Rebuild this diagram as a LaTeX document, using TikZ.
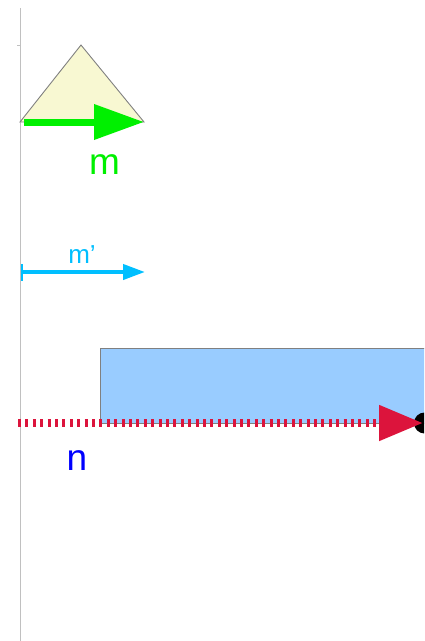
\documentclass[tikz,border=0pt]{standalone}
\usepackage{fontspec}
\setmainfont{Liberation Sans}
\usetikzlibrary{arrows.meta}
\definecolor{triyellow}{HTML}{F8F8D2}
\definecolor{mgreen}{HTML}{00F000}
\definecolor{mcyan}{HTML}{00BFFF}
\definecolor{ncrimson}{HTML}{DC143C}
\definecolor{rectblue}{HTML}{99CCFF}
\definecolor{axisgray}{HTML}{C0C0C0}
\begin{document}
\begin{tikzpicture}[x=1pt,y=-1pt,
  axisline/.style={draw=axisgray, line width=1.2pt},
  shapeline/.style={draw=gray, line width=0.9pt},
  greenarrow/.style={draw=mgreen, line width=7pt, -{Triangle[length=50pt,width=34pt]}},
  cyanarrow/.style={draw=mcyan, line width=4pt, {Bar[width=17pt,line width=2pt]}-{Triangle[length=22pt,width=15pt]}},
  redarrow/.style={draw=ncrimson, line width=8pt, dash pattern=on 3pt off 4.4pt, -{Triangle[length=44pt,width=34pt]}},
  lbl/.style={inner sep=0pt, font=\fontsize{37}{40}\selectfont}
]
\useasboundingbox (0,0) rectangle (424,641);
\clip (0,0) rectangle (424,641);
% axis
\coordinate (a1) at (20.5,8);
\coordinate (a2) at (20.5,641);
\draw[axisline] (a1) -- (a2);
\coordinate (t1) at (17,45);
\coordinate (t2) at (20.5,45);
\draw[axisline, line width=0.8pt] (t1) -- (t2);
% triangle
\coordinate (p1) at (20,122);
\coordinate (p2) at (81,45);
\coordinate (p3) at (144,122);
\filldraw[shapeline, fill=triyellow] (p1) -- (p2) -- (p3) -- cycle;
% green arrow m
\coordinate (g1) at (24,122);
\coordinate (g2) at (144,122);
\draw[greenarrow] (g1) -- (g2);
\node[lbl, text=mgreen] (m) at (104.5,165) {m};
% cyan arrow m'
\coordinate (c1) at (21,272);
\coordinate (c2) at (145,272);
\draw[cyanarrow] (c1) -- (c2);
\node[lbl, text=mcyan, font=\fontsize{26}{28}\selectfont] (mp) at (82,255) {m’};
% rectangle
\coordinate (r1) at (100,348);
\coordinate (r2) at (432,423);
\filldraw[shapeline, fill=rectblue] (r1) rectangle (r2);
% black dot
\coordinate (dot) at (424.5,423);
\fill[black] (dot) circle (10.5);
% red dotted arrow n
\coordinate (n1) at (18,423);
\coordinate (n2) at (423,423);
\draw[redarrow] (n1) -- (n2);
\node[lbl, text=blue] (n) at (77,461) {n};
\end{tikzpicture}
\end{document}
